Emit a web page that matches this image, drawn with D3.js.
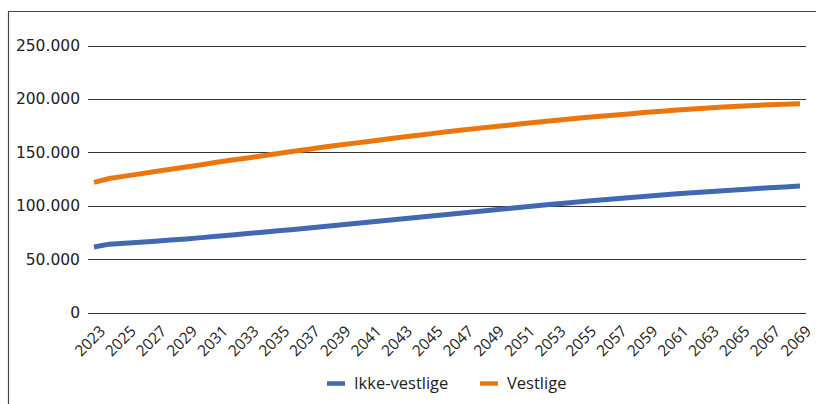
<!DOCTYPE html>
<html><head><meta charset="utf-8">
<script src="https://cdn.jsdelivr.net/npm/d3@7"></script>
<style>body{margin:0;background:#fff}svg{display:block}</style>
</head><body><svg id="c" width="816" height="404"></svg>
<script>
const years = d3.range(2023, 2070);
const ikkeVestlige = [61.3,64.0,64.8,65.7,66.7,67.8,68.9,70.1,71.3,72.6,73.9,75.2,76.5,77.8,79.2,80.6,82.0,83.4,84.8,86.2,87.6,89.0,90.4,91.8,93.2,94.6,96.0,97.4,98.8,100.2,101.5,102.8,104.1,105.3,106.5,107.7,108.9,110.0,111.1,112.1,113.1,114.1,115.0,115.9,116.8,117.6,118.4].map(v=>v*1000);
const vestlige = [121.8,125.5,127.7,129.8,132.0,134.1,136.3,138.4,140.6,142.7,144.7,146.8,148.8,150.9,152.9,154.9,156.8,158.6,160.4,162.2,164.0,165.7,167.5,169.2,170.8,172.4,173.9,175.4,176.9,178.4,179.8,181.2,182.5,183.8,185.0,186.2,187.4,188.5,189.6,190.6,191.5,192.4,193.2,193.9,194.5,195.0,195.4].map(v=>v*1000);
const yTicks = [0,50000,100000,150000,200000,250000];
const seriesNames = ["Ikke-vestlige","Vestlige"];
const colors = ["#4169B2","#EC760E"];

const svg = d3.select("#c");
// frame
svg.append("path").attr("d","M8.5,404 L8.5,11.5 L816,11.5").attr("fill","none").attr("stroke","#444").attr("stroke-width",1.2);

const x = d3.scalePoint().domain(years).range([94, 800]);
const y = d3.scaleLinear().domain([0,250000]).range([312.5, 45.5]);

const fmt = v => v===0 ? "0" : d3.format(",")(v).replace(/,/g,".");

// gridlines
svg.append("g").selectAll("line").data(yTicks).join("line")
  .attr("x1",88).attr("x2",806).attr("y1",d=>Math.round(y(d))+0.5).attr("y2",d=>Math.round(y(d))+0.5)
  .attr("stroke","#333").attr("stroke-width",1.2);
svg.append("g").selectAll("text").data(yTicks).join("text")
  .attr("x",80).attr("y",d=>y(d)).attr("dy","0.35em").attr("text-anchor","end")
  .attr("font-family","DejaVu Sans").attr("font-size",15.5).attr("fill","#222")
  .text(fmt);

// x labels
const xl = years.filter((d,i)=>i%2===0);
svg.append("g").selectAll("text").data(xl).join("text")
  .attr("transform",d=>`translate(${x(d)+4},${324}) rotate(-45)`)
  .attr("text-anchor","end").attr("dy","0.75em")
  .attr("font-family","Open Sans").attr("font-size",15.5).attr("fill","#222")
  .text(d=>d);

const line = d3.line().x((d,i)=>x(years[i])).y(d=>y(d));
[ikkeVestlige, vestlige].forEach((s,k)=>{
  svg.append("path").attr("d",line(s)).attr("fill","none").attr("stroke",colors[k]).attr("stroke-width",5);
});

// legend
const lg = [{n:seriesNames[0],c:colors[0],x:327},{n:seriesNames[1],c:colors[1],x:480}];
lg.forEach(l=>{
  svg.append("line").attr("x1",l.x).attr("x2",l.x+18).attr("y1",383.5).attr("y2",383.5).attr("stroke",l.c).attr("stroke-width",4.5);
  svg.append("text").attr("x",l.x+27).attr("y",383.5).attr("dy","0.35em")
    .attr("font-family","Open Sans").attr("font-size",16.5).attr("fill","#222").text(l.n);
});
</script></body></html>
